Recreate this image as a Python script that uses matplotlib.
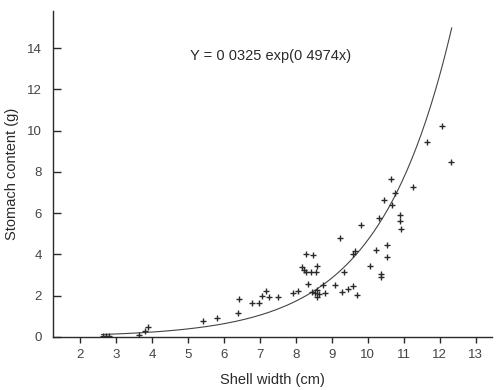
import numpy as np
import matplotlib
matplotlib.use("Agg")
import matplotlib.pyplot as plt

# shell width (cm) vs stomach content (g)
shell_width = [2.65, 2.72, 2.80, 3.65, 3.80, 3.90,
               5.41, 5.80, 6.39, 6.41, 6.78, 6.97, 7.07, 7.18, 7.26, 7.49,
               7.91, 8.05,
               8.27, 8.47, 8.16, 8.22, 8.28, 8.42, 8.55, 8.58,
               8.33, 8.59, 8.75, 8.63, 8.82, 8.52, 8.44, 8.60,
               9.10, 9.33, 9.29, 9.45, 9.59, 9.71,
               9.80, 9.22, 9.63, 9.59,
               10.05, 10.22, 10.36, 10.36, 10.52, 10.52,
               10.31, 10.44, 10.68, 10.76, 10.64, 10.90, 10.90, 10.92,
               11.26, 11.64, 12.06, 12.32]
stomach = [0.05, 0.05, 0.05, 0.08, 0.30, 0.50,
           0.78, 0.92, 1.17, 1.84, 1.64, 1.64, 2.00, 2.25, 1.96, 1.96,
           2.15, 2.25,
           4.03, 3.95, 3.41, 3.25, 3.14, 3.14, 3.14, 3.45,
           2.57, 2.28, 2.51, 2.09, 2.15, 2.15, 2.20, 1.94,
           2.54, 3.15, 2.20, 2.30, 2.48, 2.02,
           5.42, 4.79, 4.16, 4.00,
           3.45, 4.22, 3.06, 2.92, 4.48, 3.87,
           5.76, 6.65, 6.38, 7.00, 7.65, 5.92, 5.60, 5.23,
           7.26, 9.45, 10.21, 8.48]

# fitted model Y = a exp(b x)
a_coef = 0.0325
b_coef = 0.4974
fit_range = (2.6, 12.33)

x_ticks = list(range(2, 14))
y_ticks = list(range(0, 15, 2))

plt.rcParams['font.family'] = ['Liberation Sans', 'DejaVu Sans']
ink = '#2a2a2a'
grey = '#444444'

fig = plt.figure(figsize=(5, 3.9), dpi=100)
ax = fig.add_axes([0.106, 0.136, 0.878, 0.836])

xs = np.linspace(fit_range[0], fit_range[1], 300)
ax.plot(xs, a_coef * np.exp(b_coef * xs), color=grey, lw=0.8)
ax.plot(shell_width, stomach, linestyle='none', marker='+', ms=5,
        mew=1.0, color=ink)

ax.text(5.07, 13.6, 'Y = 0 0325 exp(0 4974x)', fontsize=10.5, color=ink,
        va='center', ha='left')

ax.set_xlim(1.25, 13.45)
ax.set_ylim(0, 15.8)
ax.set_xticks(x_ticks)
ax.set_yticks(y_ticks)

for s in ['top', 'right']:
    ax.spines[s].set_visible(False)
for s in ['left', 'bottom']:
    ax.spines[s].set_color(ink)
    ax.spines[s].set_linewidth(1.0)

ax.tick_params(axis='x', direction='out', length=4, width=1, colors=ink,
               labelcolor=grey, labelsize=9.5, pad=5)
ax.tick_params(axis='y', direction='in', length=6, width=1, colors=ink,
               labelcolor=grey, labelsize=9.5, pad=8)

ax.set_xlabel('Shell width (cm)', fontsize=10.5, color=ink, labelpad=8)
ax.set_ylabel('Stomach content (g)', fontsize=10.5, color=ink, labelpad=6)

fig.savefig('out.png', dpi=100)
